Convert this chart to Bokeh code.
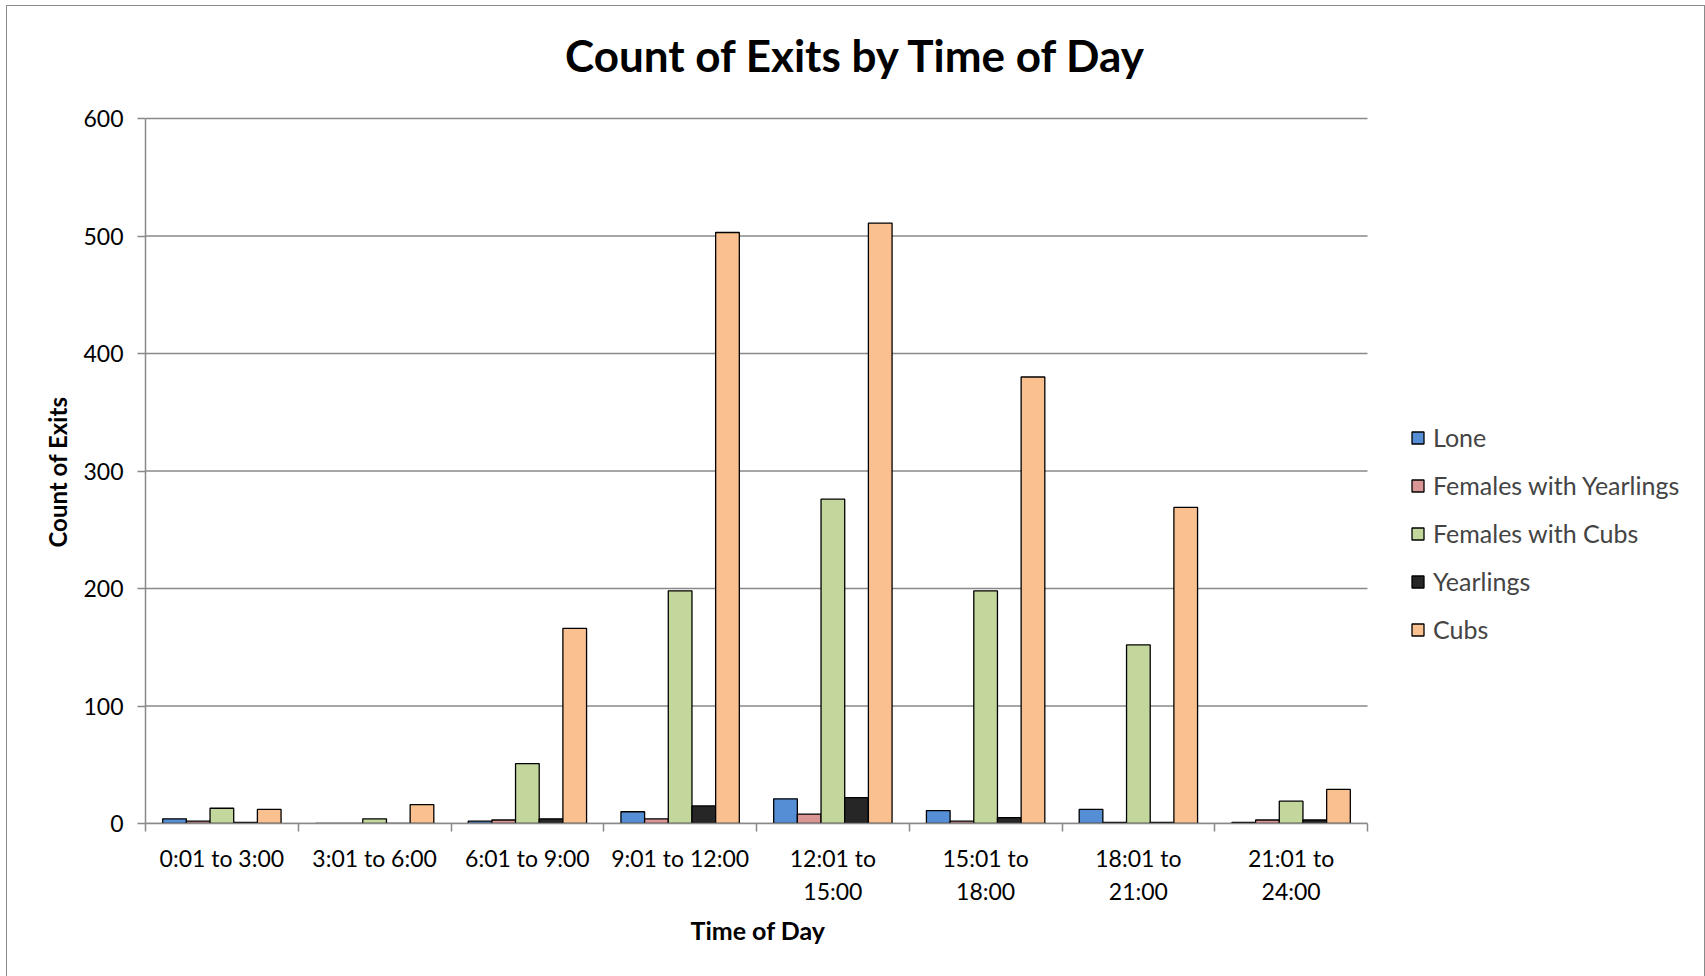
from bokeh.plotting import figure
from bokeh.models import Range1d, FixedTicker, Legend, LegendItem, ColumnDataSource, Title, Label
from bokeh.embed import file_html
from bokeh.resources import INLINE

# Exit counts per three-hour window
time_slots = ["0:01 to 3:00", "3:01 to 6:00", "6:01 to 9:00", "9:01 to 12:00",
              "12:01 to\n15:00", "15:01 to\n18:00", "18:01 to\n21:00", "21:01 to\n24:00"]
series_names = ["Lone", "Females with Yearlings", "Females with Cubs", "Yearlings", "Cubs"]
lone = [4, 0, 2, 10, 21, 11, 12, 1]
females_yearlings = [2, 0, 3, 4, 8, 2, 1, 3]
females_cubs = [13, 4, 51, 198, 276, 198, 152, 19]
yearlings = [1, 0, 4, 15, 22, 5, 1, 3]
cubs = [12, 16, 166, 503, 511, 380, 269, 29]
y_ticks = [0, 100, 200, 300, 400, 500, 600]

colors = ["#558ed5", "#d99694", "#c3d69b", "#262626", "#fac090"]
series_values = [lone, females_yearlings, females_cubs, yearlings, cubs]

FONT = "Lato"
GRAY = "#898989"

n = len(time_slots)
y_max = y_ticks[-1]
# The plotting frame fills the canvas to the right and top edges so the legend
# and the heading can sit inside it; axes and gridlines cover only the data span.
PX_X = 1222 / n          # pixels per category
PX_Y = 705 / y_max       # pixels per count
FRAME_W, FRAME_H = 1559, 817
x_end = FRAME_W / PX_X
y_end = FRAME_H / PX_Y

p = figure(width=1697, height=971, output_backend="svg", toolbar_location=None,
           x_range=Range1d(0, x_end), y_range=Range1d(0, y_end),
           min_border_left=138, min_border_right=0, min_border_top=0, min_border_bottom=154,
           margin=(6, 0, 0, 7), background_fill_color="white", border_fill_color="white",
           styles={"outline": "1.5px solid #8a8a8a"})
p.outline_line_color = None
p.xgrid.grid_line_color = None
p.ygrid.grid_line_color = None

heading = Label(x=(849 - 138) / PX_X, y=(FRAME_H - 48) / PX_Y,
                text="Count of Exits by Time of Day", text_font=FONT,
                text_font_style="bold", text_font_size="44px", text_color="black",
                text_align="center", text_baseline="middle")
p.add_layout(heading)

# Horizontal gridlines across the category span
p.segment(x0=0, x1=n, y0=y_ticks, y1=y_ticks, line_color=GRAY, line_width=1.5)

bar_w = 0.155
offsets = [-2 * bar_w, -bar_w, 0, bar_w, 2 * bar_w]
items = []
for name, vals, col, off in zip(series_names, series_values, colors, offsets):
    src = ColumnDataSource(dict(x=[i + 0.5 + off for i in range(len(vals))], top=vals))
    r = p.vbar(x="x", top="top", bottom=0, width=bar_w, source=src,
               fill_color=col, line_color="black", line_width=1.3)
    items.append(LegendItem(label=name, renderers=[r]))

# Axes
centers = [i + 0.5 for i in range(n)]
xax = p.xaxis[0]
xax.bounds = (0, n)
xax.ticker = FixedTicker(ticks=centers, minor_ticks=list(range(n + 1)))
xax.major_label_overrides = {c: t for c, t in zip(centers, time_slots)}
xax.major_tick_line_color = None
xax.minor_tick_line_color = GRAY
xax.minor_tick_out = 8
xax.minor_tick_in = 0
xax.minor_tick_line_width = 1.5
xax.axis_line_color = GRAY
xax.axis_line_width = 1.5
xax.major_label_text_font = FONT
xax.major_label_text_font_size = "23px"
xax.major_label_text_color = "black"
xax.major_label_standoff = 12

x_title = Title(text="Time of Day", text_font=FONT, text_font_style="bold",
                text_font_size="25px", text_color="black", align="left",
                offset=545, standoff=9)
p.add_layout(x_title, "below")

yax = p.yaxis[0]
yax.bounds = (0, y_max)
yax.ticker = FixedTicker(ticks=y_ticks)
yax.minor_tick_line_color = None
yax.major_tick_line_color = GRAY
yax.major_tick_line_width = 1.5
yax.major_tick_out = 8
yax.major_tick_in = 0
yax.axis_line_color = GRAY
yax.axis_line_width = 1.5
yax.major_label_text_font = FONT
yax.major_label_text_font_size = "23px"
yax.major_label_text_color = "black"
yax.major_label_standoff = 14

y_title = Title(text="Count of Exits", text_font=FONT, text_font_style="bold",
                text_font_size="24px", text_color="black", align="left",
                offset=276, standoff=18)
p.add_layout(y_title, "left")

legend = Legend(items=items, location=(1265, 179), orientation="vertical",
                label_text_font=FONT, label_text_font_size="25px",
                glyph_width=15, glyph_height=15, label_standoff=8,
                label_height=27, spacing=18, padding=0, margin=0,
                border_line_color=None, background_fill_alpha=0)
p.add_layout(legend)

open("out.html", "w").write(file_html(p, INLINE))
